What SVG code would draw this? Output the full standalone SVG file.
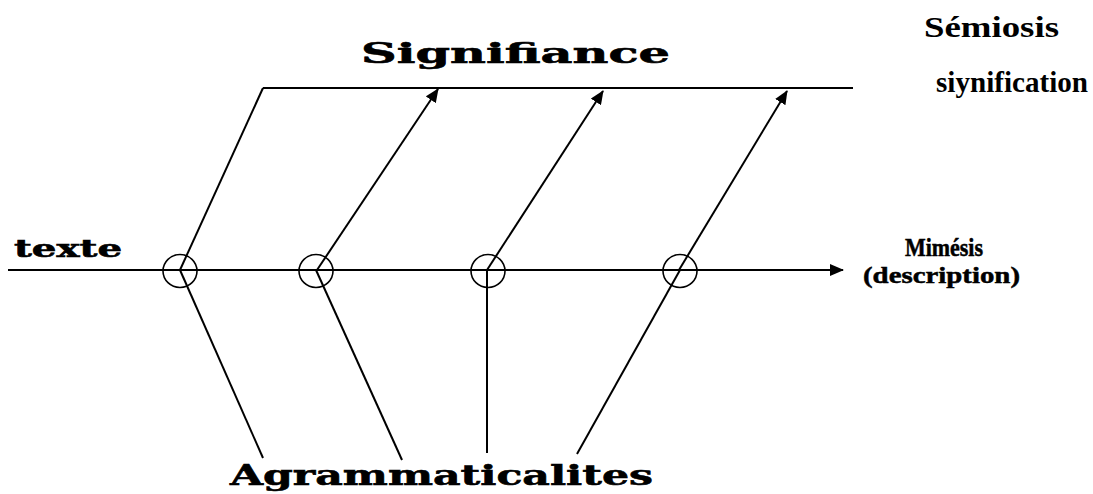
<svg xmlns="http://www.w3.org/2000/svg" width="1093" height="494" viewBox="0 0 1093 494">
<style>
.ln{stroke:#000;stroke-width:2;fill:none}
.ax{stroke:#000;stroke-width:2.2;fill:none}
.ci{stroke:#000;stroke-width:1.6;fill:none}
.wide{font-family:'DejaVu Serif',serif;font-weight:bold;fill:#000;stroke:#000;stroke-width:0.6}
.gar{font-family:'Liberation Serif','Times New Roman',serif;font-weight:bold;fill:#000}
.cond{font-family:'Liberation Serif','Times New Roman',serif;font-weight:bold;fill:#000;stroke:#000;stroke-width:0.5}
</style>
<defs>
<marker id="ah" markerWidth="14" markerHeight="12" refX="13" refY="6" orient="auto" markerUnits="userSpaceOnUse">
<path d="M0,0 L14,6 L0,12 Z" fill="#000"/>
</marker>
</defs>
<g id="connectors">
<line class="ln" x1="263" y1="88" x2="853" y2="88"/>
<line class="ax" x1="8" y1="270" x2="843" y2="270" marker-end="url(#ah)"/>
<line class="ln" x1="180" y1="270" x2="263" y2="88"/>
<line class="ln" x1="317" y1="270" x2="438" y2="89" marker-end="url(#ah)"/>
<line class="ln" x1="487" y1="270" x2="603" y2="91" marker-end="url(#ah)"/>
<line class="ln" x1="679" y1="270" x2="787" y2="91" marker-end="url(#ah)"/>
<line class="ln" x1="180" y1="270" x2="263" y2="458"/>
<line class="ln" x1="316" y1="270" x2="402" y2="460"/>
<line class="ln" x1="487" y1="270" x2="487" y2="453"/>
<line class="ln" x1="680" y1="270" x2="577" y2="454"/>
</g>
<g id="node1"><ellipse class="ci" cx="180" cy="271" rx="17" ry="16.5"/></g>
<g id="node2"><ellipse class="ci" cx="316" cy="271" rx="17" ry="16.5"/></g>
<g id="node3"><ellipse class="ci" cx="488" cy="271" rx="17" ry="16.5"/></g>
<g id="node4"><ellipse class="ci" cx="680" cy="271" rx="17" ry="16.5"/></g>
<g id="signifiance"><text class="wide" x="361" y="63" font-size="28" textLength="309" lengthAdjust="spacingAndGlyphs">Signifiance</text></g>
<g id="semiosis">
<text class="gar" x="924" y="37" font-size="30" textLength="135" lengthAdjust="spacingAndGlyphs">Sémiosis</text>
<text class="gar" x="936" y="92" font-size="30" textLength="152" lengthAdjust="spacingAndGlyphs">siynification</text>
</g>
<g id="texte"><text class="wide" x="14" y="257" font-size="24" textLength="108" lengthAdjust="spacingAndGlyphs">texte</text></g>
<g id="mimesis">
<text class="cond" x="905" y="256" font-size="25" textLength="78" lengthAdjust="spacingAndGlyphs">Mimésis</text>
<text class="cond" x="863" y="283" font-size="24" textLength="157" lengthAdjust="spacingAndGlyphs">(description)</text>
</g>
<g id="agram"><text class="wide" x="230" y="485" font-size="28" textLength="423" lengthAdjust="spacingAndGlyphs">Agrammaticalites</text></g>
</svg>
